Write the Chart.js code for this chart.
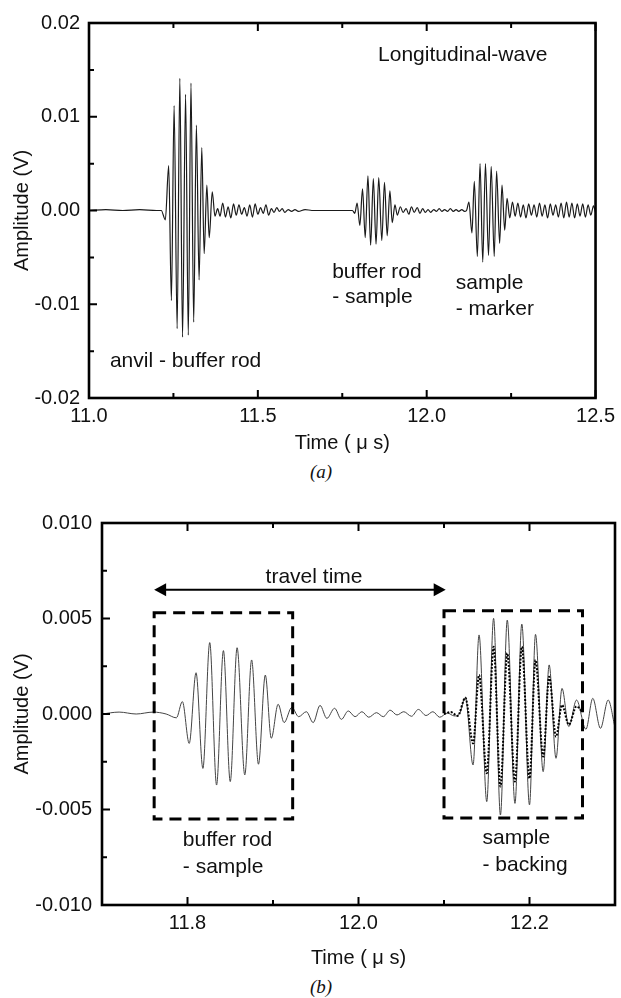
<!DOCTYPE html>
<html>
<head>
<meta charset="utf-8">
<script src="https://cdn.jsdelivr.net/npm/chart.js@4.4.1/dist/chart.umd.min.js"></script>
<style>
  html, body { margin: 0; padding: 0; background: #fff; }
  body { width: 621px; height: 998px; position: relative; overflow: hidden; }
  .wrap { position: absolute; left: 0; width: 621px; }
  .cap { position: absolute; width: 40px; text-align: center; font-family: "Liberation Serif", "DejaVu Serif", serif; font-style: italic; font-size: 19px; color: #111; line-height: 20px; }
</style>
</head>
<body>
<div class="wrap" style="top:0;height:460px"><canvas id="ca" width="621" height="460"></canvas></div>
<div class="wrap" style="top:490px;height:480px"><canvas id="cb" width="621" height="480"></canvas></div>
<div class="cap" style="left:301px;top:462px">(a)</div>
<div class="cap" style="left:301px;top:977px">(b)</div>
<script>
// ---------------- Panel (a) data: time (µs) and amplitude (V) ----------------
const timeA = [
  11.000, 11.050, 11.100, 11.150, 11.200, 11.214,
  11.226, 11.236, 11.244, 11.252, 11.261, 11.269, 11.277, 11.286, 11.294, 11.302,
  11.310, 11.318, 11.326, 11.334, 11.341, 11.349, 11.356, 11.365, 11.373, 11.381,
  11.388, 11.396, 11.404, 11.412, 11.420, 11.428, 11.436, 11.444, 11.452, 11.460,
  11.468, 11.476, 11.484, 11.492, 11.500, 11.508, 11.516, 11.524, 11.532, 11.540,
  11.548, 11.556, 11.564, 11.572, 11.580, 11.590, 11.600, 11.610, 11.620, 11.640,
  11.660, 11.700, 11.750, 11.780,
  11.787, 11.794, 11.802, 11.810, 11.818, 11.826, 11.834, 11.842, 11.850, 11.858,
  11.867, 11.875, 11.883, 11.891, 11.898, 11.906, 11.913,
  11.922, 11.930, 11.939, 11.947, 11.955, 11.963, 11.972, 11.980, 11.988, 11.996,
  12.004, 12.012, 12.021, 12.029, 12.037, 12.045, 12.053, 12.062, 12.070, 12.079,
  12.087, 12.095, 12.104, 12.112, 12.118,
  12.125, 12.134, 12.141, 12.150, 12.158, 12.166, 12.174, 12.183, 12.191, 12.200,
  12.207, 12.216, 12.223, 12.231, 12.238, 12.246,
  12.254, 12.262, 12.270, 12.278, 12.286, 12.294, 12.302, 12.310, 12.318, 12.326,
  12.334, 12.342, 12.350, 12.358, 12.366, 12.374, 12.382, 12.390, 12.398, 12.406,
  12.414, 12.422, 12.430, 12.438, 12.446, 12.454, 12.462, 12.470, 12.478, 12.486,
  12.494, 12.500
];
const ampA = [
  0.0000, 0.0001, 0.0000, 0.0001, 0.0000, 0.0000,
  -0.0010, 0.0048, -0.0096, 0.0112, -0.0126, 0.0141, -0.0135, 0.0124, -0.0133, 0.0136,
  -0.0119, 0.0091, -0.0074, 0.0067, -0.0046, 0.0027, -0.0029, 0.0020, -0.0006, 0.0002,
  -0.0006, 0.0008, -0.0007, 0.0004, -0.0008, 0.0007, -0.0005, 0.0006, -0.0004, 0.0003,
  -0.0006, 0.0006, -0.0007, 0.0007, -0.0004, 0.0003, -0.0003, 0.0006, -0.0005, 0.0002,
  -0.0002, 0.0003, -0.0001, 0.0002, -0.0002, 0.0001, -0.0001, 0.0001, -0.0001, 0.0001,
  0.0000, 0.0000, 0.0000, 0.0000,
  -0.0003, 0.0008, -0.0016, 0.0023, -0.0029, 0.0037, -0.0037, 0.0034, -0.0036, 0.0035,
  -0.0032, 0.0030, -0.0027, 0.0021, -0.0013, 0.0006, -0.0005,
  0.0004, -0.0002, 0.0002, -0.0004, 0.0004, -0.0002, 0.0003, -0.0003, 0.0002, -0.0002,
  0.0001, -0.0002, 0.0001, -0.0001, 0.0002, -0.0001, 0.0001, -0.0001, 0.0002, -0.0001,
  0.0001, -0.0001, 0.0001, -0.0001, 0.0000,
  0.0009, -0.0024, 0.0031, -0.0049, 0.0050, -0.0055, 0.0050, -0.0048, 0.0047, -0.0049,
  0.0042, -0.0035, 0.0027, -0.0021, 0.0013, -0.0008,
  0.0009, -0.0006, 0.0008, -0.0007, 0.0006, -0.0008, 0.0007, -0.0005, 0.0006, -0.0007,
  0.0008, -0.0006, 0.0006, -0.0008, 0.0007, -0.0005, 0.0006, -0.0007, 0.0008, -0.0008,
  0.0009, -0.0007, 0.0008, -0.0008, 0.0007, -0.0006, 0.0007, -0.0007, 0.0006, -0.0005,
  0.0005, -0.0002
];

// ---------------- Panel (b) data: solid trace ----------------
const timeB = [
  11.700, 11.720, 11.740, 11.760, 11.775,
  11.787, 11.794, 11.802, 11.810, 11.818, 11.826, 11.834, 11.842, 11.850, 11.858,
  11.867, 11.875, 11.883, 11.891, 11.898, 11.906, 11.913,
  11.922, 11.930, 11.939, 11.947, 11.955, 11.963, 11.972, 11.980, 11.988, 11.996,
  12.004, 12.012, 12.021, 12.029, 12.037, 12.045, 12.053, 12.062, 12.070, 12.079,
  12.087, 12.095, 12.104, 12.112, 12.118,
  12.125, 12.134, 12.141, 12.150, 12.158, 12.166, 12.174, 12.183, 12.191, 12.200,
  12.207, 12.216, 12.223, 12.231, 12.238, 12.246, 12.255, 12.266, 12.274, 12.283,
  12.292, 12.300
];
const ampB = [
  0.0000, 0.0001, 0.0000, 0.0001, 0.0000,
  -0.0002, 0.00065, -0.00154, 0.00216, -0.00285, 0.00374, -0.00372, 0.00332, -0.00354, 0.00347,
  -0.00319, 0.00283, -0.00263, 0.00204, -0.00127, 0.00051, -0.00045,
  0.00035, -0.00014, 0.00012, -0.00045, 0.00045, -0.00023, 0.00030, -0.00028, 0.00016, -0.00014,
  0.00012, -0.00017, 0.00007, -0.00014, 0.00020, -0.00005, 0.00012, -0.00012, 0.00024, -0.00008,
  0.00012, -0.00017, 0.00005, -0.00010, 0.00000,
  0.00087, -0.00267, 0.00414, -0.00459, 0.00501, -0.00529, 0.00492, -0.00468, 0.00471, -0.00476,
  0.00417, -0.00302, 0.00257, -0.00232, 0.00134, -0.00066, 0.00073, -0.00080, 0.00082, -0.00075,
  0.00073, -0.00070
];
// ---------------- Panel (b) data: dotted trace ----------------
const timeBDot = [
  12.100, 12.108, 12.116,
  12.125, 12.134, 12.141, 12.150, 12.158, 12.166, 12.174, 12.183, 12.191, 12.200,
  12.207, 12.216, 12.223, 12.231, 12.238, 12.246, 12.255, 12.262
];
const ampBDot = [
  0.0000, 0.0001, -0.0001,
  0.00085, -0.00154, 0.00204, -0.00310, 0.00352, -0.00380, 0.00318, -0.00354, 0.00352, -0.00337,
  0.00283, -0.00223, 0.00195, -0.00119, 0.00047, -0.00056, 0.00040, 0.00010
];

// ---------------- Tick values and labels ----------------
const xTicksA = [11.0, 11.5, 12.0, 12.5];
const xTickLabelsA = ['11.0', '11.5', '12.0', '12.5'];
const yTicksA = [-0.02, -0.01, 0.0, 0.01, 0.02];
const yTickLabelsA = ['-0.02', '-0.01', '0.00', '0.01', '0.02'];
const xTicksB = [11.8, 12.0, 12.2];
const xTickLabelsB = ['11.8', '12.0', '12.2'];
const yTicksB = [-0.010, -0.005, 0.0, 0.005, 0.010];
const yTickLabelsB = ['-0.010', '-0.005', '0.000', '0.005', '0.010'];

const FONT = "'Liberation Sans', Arial, Helvetica, sans-serif";
Chart.defaults.font.family = FONT;
Chart.defaults.color = '#111';

function pts(xs, ys) { return xs.map((x, i) => ({ x: x, y: ys[i] })); }
function findIdx(v, arr) { for (let i = 0; i < arr.length; i++) if (Math.abs(v - arr[i]) < 1e-9) return i; return -1; }
function labeler(vals, labels) { return function (v) { const i = findIdx(v, vals); return i >= 0 ? labels[i] : ''; }; }

const framePlugin = {
  id: 'frame',
  afterDraw(chart, args, o) {
    const { ctx, chartArea: a } = chart;
    const x = chart.scales.x, y = chart.scales.y;
    ctx.save();
    ctx.strokeStyle = '#000';
    ctx.lineWidth = 2;
    ctx.beginPath();
    x.ticks.forEach(t => {
      const px = x.getPixelForValue(t.value);
      const len = findIdx(t.value, o.xMajor) >= 0 ? 8 : 5;
      ctx.moveTo(px, a.bottom); ctx.lineTo(px, a.bottom - len);
      ctx.moveTo(px, a.top); ctx.lineTo(px, a.top + len);
    });
    y.ticks.forEach(t => {
      const py = y.getPixelForValue(t.value);
      const len = findIdx(t.value, o.yMajor) >= 0 ? 8 : 5;
      ctx.moveTo(a.left, py); ctx.lineTo(a.left + len, py);
    });
    ctx.stroke();
    ctx.lineWidth = 2.6;
    ctx.strokeRect(a.left, a.top, a.right - a.left, a.bottom - a.top);
    ctx.restore();
  }
};

const notesPlugin = {
  id: 'notes',
  afterDatasetsDraw(chart, args, o) {
    const { ctx } = chart;
    const x = chart.scales.x, y = chart.scales.y;
    ctx.save();
    (o.boxes || []).forEach(b => {
      ctx.strokeStyle = '#000';
      ctx.lineWidth = 3;
      ctx.setLineDash([12, 7]);
      const x1 = x.getPixelForValue(b.t1), x2 = x.getPixelForValue(b.t2);
      const y1 = y.getPixelForValue(b.v1), y2 = y.getPixelForValue(b.v2);
      ctx.strokeRect(x1, y1, x2 - x1, y2 - y1);
      ctx.setLineDash([]);
    });
    if (o.arrow) {
      const ar = o.arrow;
      const x1 = x.getPixelForValue(ar.t1), x2 = x.getPixelForValue(ar.t2), yy = y.getPixelForValue(ar.v);
      ctx.strokeStyle = '#000'; ctx.fillStyle = '#000'; ctx.lineWidth = 2;
      ctx.beginPath(); ctx.moveTo(x1 + 8, yy); ctx.lineTo(x2 - 8, yy); ctx.stroke();
      ctx.beginPath(); ctx.moveTo(x1, yy); ctx.lineTo(x1 + 12, yy - 6.5); ctx.lineTo(x1 + 12, yy + 6.5); ctx.closePath(); ctx.fill();
      ctx.beginPath(); ctx.moveTo(x2, yy); ctx.lineTo(x2 - 12, yy - 6.5); ctx.lineTo(x2 - 12, yy + 6.5); ctx.closePath(); ctx.fill();
    }
    ctx.fillStyle = '#111';
    ctx.font = '21px ' + FONT;
    ctx.textBaseline = 'alphabetic';
    (o.texts || []).forEach(tx => {
      ctx.textAlign = tx.align || 'left';
      ctx.fillText(tx.s, x.getPixelForValue(tx.t), y.getPixelForValue(tx.v));
    });
    ctx.restore();
  }
};

function makeChart(id, cfg) {
  return new Chart(document.getElementById(id), {
    type: 'line',
    data: { datasets: cfg.datasets },
    plugins: [framePlugin, notesPlugin],
    options: {
      responsive: false,
      devicePixelRatio: 1,
      animation: false,
      events: [],
      layout: { padding: cfg.padding },
      plugins: {
        legend: { display: false },
        tooltip: { enabled: false },
        frame: { xMajor: cfg.xMajor, yMajor: cfg.yMajor },
        notes: cfg.notes
      },
      elements: { point: { radius: 0 } },
      scales: {
        x: {
          type: 'linear', min: cfg.xMin, max: cfg.xMax,
          grid: { display: false, drawTicks: false, tickLength: 0 },
          border: { display: false },
          ticks: { stepSize: cfg.xStep, autoSkip: false, maxRotation: 0, padding: cfg.xPad,
                   font: { size: 20 }, color: '#111', callback: labeler(cfg.xMajor, cfg.xLabels) },
          title: { display: true, text: 'Time ( \u03BC s)', font: { size: 20 }, color: '#111',
                   padding: { top: 0, bottom: cfg.xTitlePad } },
          afterFit: s => { s.height = cfg.xHeight; }
        },
        y: {
          type: 'linear', min: cfg.yMin, max: cfg.yMax,
          grid: { display: false, drawTicks: false, tickLength: 0 },
          border: { display: false },
          ticks: { stepSize: cfg.yStep, autoSkip: false, padding: cfg.yPad,
                   font: { size: 20 }, color: '#111', callback: labeler(cfg.yMajor, cfg.yLabels) },
          title: { display: true, text: 'Amplitude (V)', font: { size: 20 }, color: '#111',
                   padding: { top: 10, bottom: 0 } },
          afterFit: s => { s.width = cfg.yWidth; }
        }
      }
    }
  });
}

makeChart('ca', {
  datasets: [{
    data: pts(timeA, ampA), borderColor: '#1a1a1a', borderWidth: 1.2,
    cubicInterpolationMode: 'monotone', fill: false
  }],
  padding: { left: 0, top: 23, right: 21, bottom: 0 },
  xMin: 11.0, xMax: 12.5, xStep: 0.25, yMin: -0.02, yMax: 0.02, yStep: 0.005,
  xMajor: xTicksA, xLabels: xTickLabelsA, yMajor: yTicksA, yLabels: yTickLabelsA,
  xPad: 6, yPad: 9, xTitlePad: 5, xHeight: 62, yWidth: 89,
  notes: {
    texts: [
      { s: 'Longitudinal-wave', t: 11.856, v: 0.0159 },
      { s: 'anvil - buffer rod', t: 11.062, v: -0.0167 },
      { s: 'buffer rod', t: 11.720, v: -0.0072 },
      { s: '- sample', t: 11.720, v: -0.0099 },
      { s: 'sample', t: 12.086, v: -0.0084 },
      { s: '- marker', t: 12.086, v: -0.0111 }
    ]
  }
});

makeChart('cb', {
  datasets: [
    { data: pts(timeBDot, ampBDot), borderColor: '#000', borderWidth: 2, borderDash: [2, 1.5],
      cubicInterpolationMode: 'monotone', fill: false },
    { data: pts(timeB, ampB), borderColor: '#444', borderWidth: 1,
      cubicInterpolationMode: 'monotone', fill: false }
  ],
  padding: { left: 0, top: 33, right: 3, bottom: 0 },
  xMin: 11.7, xMax: 12.3, xStep: 0.1, yMin: -0.010, yMax: 0.010, yStep: 0.0025,
  xMajor: xTicksB, xLabels: xTickLabelsB, yMajor: yTicksB, yLabels: yTickLabelsB,
  xPad: 6, yPad: 10, xTitlePad: 0, xHeight: 65, yWidth: 102,
  notes: {
    boxes: [
      { t1: 11.761, t2: 11.923, v1: 0.0053, v2: -0.0055 },
      { t1: 12.100, t2: 12.262, v1: 0.0054, v2: -0.00545 }
    ],
    arrow: { t1: 11.761, t2: 12.102, v: 0.0065 },
    texts: [
      { s: 'travel time', t: 11.948, v: 0.00684, align: 'center' },
      { s: 'buffer rod', t: 11.7945, v: -0.0069 },
      { s: '- sample', t: 11.7945, v: -0.0083 },
      { s: 'sample', t: 12.145, v: -0.0068 },
      { s: '- backing', t: 12.145, v: -0.0082 }
    ]
  }
});
</script>
</body>
</html>
